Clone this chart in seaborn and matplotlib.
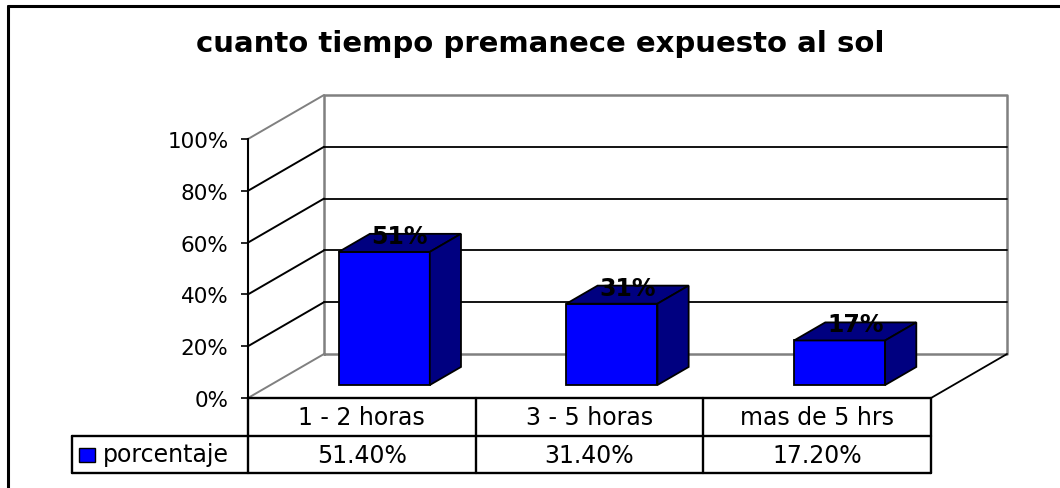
import pandas as pd
import seaborn as sns
import matplotlib.pyplot as plt
from matplotlib.patches import Polygon, Rectangle
from matplotlib.lines import Line2D

titulo = 'cuanto tiempo premanece expuesto al sol'
categorias = ['1 - 2 horas', '3 - 5 horas', 'mas de 5 hrs']
porcentaje = [51.4, 31.4, 17.2]
serie = 'porcentaje'
yticks = [0, 20, 40, 60, 80, 100]

W, H = 1060, 489
AZUL = '#0000FF'
NAVY = '#000080'
GRIS = '#808080'

# profundidad del efecto 3D en unidades de datos
DX, DY = 0.334, 17.0
F0, F1 = 0.295, 0.705   # la barra ocupa esta parte de la profundidad
ROW1, ROW2 = -14.7, -29.0   # filas de la tabla de datos
LEG_X = -1.273

df = pd.DataFrame({'cat': categorias, 'pct': porcentaje})

sns.set_style('white')
plt.rcParams['font.family'] = ['DejaVu Sans']
plt.rcParams['text.color'] = 'black'

fig = plt.figure(figsize=(W / 100, H / 100), dpi=100)
ax = fig.add_axes([248 / W, 90 / H, 683 / W, 259 / H])

n = len(categorias)
x0, x1 = -0.5, n - 0.5

# pared del fondo
ax.plot([x0 + DX, x1 + DX, x1 + DX, x0 + DX, x0 + DX],
        [DY, DY, 100 + DY, 100 + DY, DY], color=GRIS, lw=1.8, zorder=1, clip_on=False)
# lineas de division: pared del fondo y pared izquierda
for t in yticks:
    c = GRIS if t in (0, 100) else 'black'
    ax.plot([x0, x0 + DX], [t, t + DY], color=c, lw=1.4, zorder=1, clip_on=False)
    if t not in (0, 100):
        ax.plot([x0 + DX, x1 + DX], [t + DY, t + DY], color='black', lw=1.3, zorder=1, clip_on=False)
# suelo, lado derecho
ax.plot([x1, x1 + DX], [0, DY], color='black', lw=1.3, zorder=1, clip_on=False)

# barras
sns.barplot(data=df, x='cat', y='pct', color=AZUL, width=0.4, saturation=1,
            edgecolor='black', linewidth=1.3, ax=ax, zorder=3)
ddx, ddy = (F1 - F0) * DX, (F1 - F0) * DY
for i, (p, v) in enumerate(zip(ax.patches, porcentaje)):
    p.set_x(p.get_x() + F0 * DX)
    p.set_y(F0 * DY)
    p.set_clip_on(False)
    bx, bw, by = p.get_x(), p.get_width(), F0 * DY
    top = [(bx, by + v), (bx + bw, by + v), (bx + bw + ddx, by + v + ddy), (bx + ddx, by + v + ddy)]
    side = [(bx + bw, by), (bx + bw + ddx, by + ddy), (bx + bw + ddx, by + v + ddy), (bx + bw, by + v)]
    for pts in (top, side):
        ax.add_patch(Polygon(pts, closed=True, facecolor=NAVY, edgecolor='black',
                             lw=1.3, zorder=3, clip_on=False))
    ax.text(i + 0.5 * DX, v + 0.5 * DY + 2.7, f'{v:.0f}%', ha='center', va='center',
            fontsize=17, fontweight='bold', color='black', zorder=5)

ax.set_xlim(x0, x1)
ax.set_ylim(0, 100)
ax.set_xticks([])
ax.set_xlabel('')
ax.set_ylabel('')
ax.set_yticks(yticks)
ax.set_yticklabels([f'{t}%' for t in yticks])
ax.tick_params(axis='y', direction='out', length=5, width=1.2, pad=9,
               labelsize=15.5, colors='black', left=True)
for s in ('top', 'right', 'bottom'):
    ax.spines[s].set_visible(False)
ax.spines['left'].set_color('black')
ax.spines['left'].set_linewidth(1.5)
ax.patch.set_alpha(0)

# tabla de datos
tk = dict(color='black', lw=1.7, zorder=4, clip_on=False)
ax.plot([x0, x1], [0, 0], **tk)
ax.plot([LEG_X, x1], [ROW1, ROW1], **tk)
ax.plot([LEG_X, x1], [ROW2, ROW2], **tk)
ax.plot([LEG_X, LEG_X], [ROW1, ROW2], **tk)
for k in range(n + 1):
    ax.plot([k - 0.5, k - 0.5], [0, ROW2], **tk)
for i, (c, v) in enumerate(zip(categorias, porcentaje)):
    ax.text(i, ROW1 / 2, c, ha='center', va='center', fontsize=17)
    ax.text(i, (ROW1 + ROW2) / 2, f'{v:.2f}%', ha='center', va='center', fontsize=17)
ax.add_patch(Rectangle((LEG_X + 0.03, (ROW1 + ROW2) / 2 - 3.0), 0.072, 5.4,
                       facecolor=AZUL, edgecolor='black', lw=1.0, clip_on=False, zorder=4))
ax.text(LEG_X + 0.135, (ROW1 + ROW2) / 2 + 0.3, serie, ha='left', va='center', fontsize=17)

# titulo y marco exterior
fig.text(540 / W, 1 - 44 / H, titulo, ha='center', va='center', fontsize=21, fontweight='bold')
fig.add_artist(Line2D([8 / W, 8 / W], [0, 1 - 7 / H], color='black', lw=2.2))
fig.add_artist(Line2D([8 / W, 1], [1 - 7 / H, 1 - 7 / H], color='black', lw=2.2))

fig.savefig('out.png', dpi=100)
plt.close()
